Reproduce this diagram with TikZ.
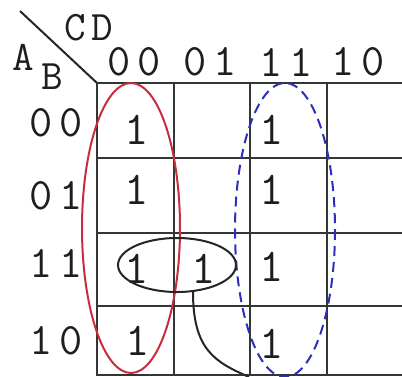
\documentclass[tikz,border=0pt]{standalone}
\usepackage{fontspec}
\setmonofont{Latin Modern Mono}[LetterSpace=14]
\usetikzlibrary{shapes.geometric}
\definecolor{gridc}{RGB}{50,55,53}
\definecolor{txtc}{RGB}{30,30,30}
\definecolor{redc}{RGB}{200,45,60}
\definecolor{bluec}{RGB}{45,45,190}
\begin{document}
\begin{tikzpicture}[x=1pt,y=-1pt,
  gridline/.style={draw=gridc,line width=2.8pt},
  dig/.style={text=txtc,font=\ttfamily\fontsize{45}{45}\selectfont,inner sep=0pt},
  let/.style={text=txtc,font=\ttfamily\fontsize{42}{42}\selectfont,inner sep=0pt},
  one/.style={text=txtc,font=\ttfamily\fontsize{47}{47}\selectfont,inner sep=0pt},
  redloop/.style={draw=redc,line width=2pt},
  blueloop/.style={draw=bluec,line width=2pt,dash pattern=on 10pt off 6pt},
  blackloop/.style={draw=black!85,line width=2pt},
  lead/.style={draw=black!85,line width=2pt}]
\useasboundingbox (0,0) rectangle (402,376);
\fill[white] (0,0) rectangle (402,376);
% grid
\foreach \yy in {83,158,233,306,375}{\draw[gridline] (97,\yy) -- (402,\yy);}
\foreach \xx in {97,174,250,327}{\draw[gridline] (\xx,83) -- (\xx,376);}
% diagonal
\coordinate (d0) at (20,11);
\coordinate (d1) at (97,83);
\draw[draw=black!85,line width=2pt] (d0) -- (d1);
% variable labels
\node[let] (cd) at (89,28) {CD};
\node[let] (a) at (23,57) {A};
\node[let] (b) at (52,77) {B};
% column headers
\node[dig] (c00) at (134,62) {00};
\node[dig] (c01) at (210,62) {01};
\node[dig] (c11) at (286,62) {11};
\node[dig] (c10) at (358,62) {10};
% row headers
\node[dig] (r00) at (56,123) {00};
\node[dig] (r01) at (56,196) {01};
\node[dig] (r11) at (56,263) {11};
\node[dig] (r10) at (56,341) {10};
% ones
\node[one] (o1) at (137,130) {1};
\node[one] (o2) at (137,190) {1};
\node[one] (o3) at (137,269) {1};
\node[one] (o4) at (138,341) {1};
\node[one] (o5) at (204,269) {1};
\node[one] (o6) at (272,130) {1};
\node[one] (o7) at (272,190) {1};
\node[one] (o8) at (272,267) {1};
\node[one] (o9) at (272,344) {1};
% loops
\draw[redloop] (131,228) ellipse [x radius=49, y radius=145];
\draw[blueloop] (285,230) ellipse [x radius=50, y radius=147];
\node[blackloop,ellipse,minimum width=118pt,minimum height=54pt,inner sep=0pt] (pair) at (177,265) {};
\coordinate (lstart) at (193,292);
\coordinate (lend) at (249,377);
\draw[lead] (lstart) .. controls (193,350) and (215,362) .. (lend);
\end{tikzpicture}
\end{document}
